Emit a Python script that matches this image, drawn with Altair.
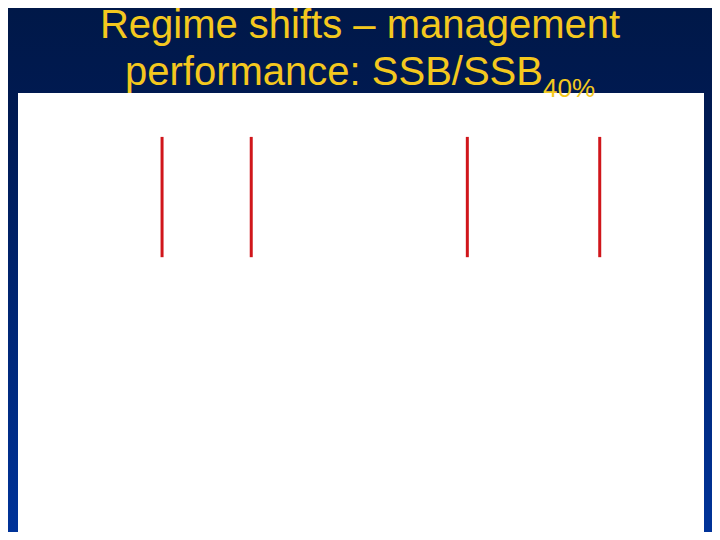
import altair as alt
import pandas as pd

# Data
title_line1 = ["Regime shifts – management"]
title_line2 = ["performance: SSB/SSB"]
title_sub = ["40%"]
shift_x = [21.0, 34.0, 65.5, 84.8]      # positions of the regime-shift markers (% of panel width)
shift_y_low = [62.6, 62.6, 62.6, 62.6]
shift_y_high = [90.0, 90.0, 90.0, 90.0]

W, H = 686, 439
YELLOW = "#f4c81e"
RED = "#d0161b"

one = pd.DataFrame({"k": [0]})

bg = alt.Chart(one).mark_rect(clip=False).encode(
    x=alt.value(-10), x2=alt.value(W + 8),
    y=alt.value(-85), y2=alt.value(H),
    color=alt.value({
        "gradient": "linear", "x1": 0, "y1": 0, "x2": 0, "y2": 1,
        "stops": [
            {"offset": 0, "color": "#001848"},
            {"offset": 0.2, "color": "#001a52"},
            {"offset": 1, "color": "#003399"},
        ],
    }),
)

panel = alt.Chart(one).mark_rect(color="white").encode(
    x=alt.value(0), x2=alt.value(W), y=alt.value(0), y2=alt.value(H)
)

df = pd.DataFrame({"x": shift_x, "y": shift_y_low, "y2": shift_y_high})
xs = alt.Scale(domain=[0, 100])
ys = alt.Scale(domain=[0, 100])
rules = alt.Chart(df).mark_rule(color=RED, strokeWidth=3).encode(
    x=alt.X("x:Q", scale=xs, axis=None),
    y=alt.Y("y:Q", scale=ys, axis=None),
    y2="y2:Q",
)

font = "Liberation Sans"
t1 = alt.Chart(pd.DataFrame({"t": title_line1})).mark_text(
    font=font, fontSize=40, color=YELLOW, align="center", baseline="alphabetic"
).encode(text="t:N", x=alt.value(342), y=alt.value(-55))

t2 = alt.Chart(pd.DataFrame({"t": title_line2})).mark_text(
    font=font, fontSize=40, color=YELLOW, align="left", baseline="alphabetic"
).encode(text="t:N", x=alt.value(107), y=alt.value(-8))

t3 = alt.Chart(pd.DataFrame({"t": title_sub})).mark_text(
    font=font, fontSize=26, color=YELLOW, align="left", baseline="alphabetic"
).encode(text="t:N", x=alt.value(525), y=alt.value(4))

chart = alt.layer(bg, panel, rules, t1, t2, t3).properties(
    width=W, height=H,
    padding={"left": 10, "top": 85, "right": 8, "bottom": 0},
    autosize=alt.AutoSizeParams(type="none"),
    background="#001848",
).configure_view(stroke=None)

chart.save("out.html", embed_options={"renderer": "svg", "actions": False})
